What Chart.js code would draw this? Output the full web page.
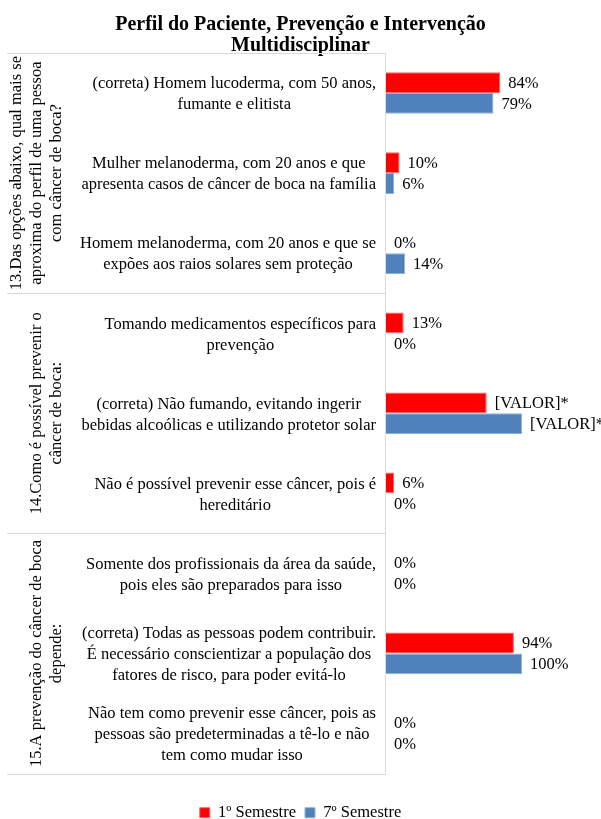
<!DOCTYPE html>
<html>
<head>
<meta charset="utf-8">
<script src="https://cdn.jsdelivr.net/npm/chart.js@4.4.1/dist/chart.umd.min.js"></script>
<style>
  body { margin: 0; background: #fff; }
  #wrap { width: 601px; height: 819px; }
</style>
</head>
<body>
<div id="wrap"><canvas id="myChart"></canvas></div>
<script>
// Answer options (one per bar pair)
const categories = [
  ["(correta) Homem lucoderma, com 50 anos,", "fumante e elitista"],
  ["Mulher melanoderma, com 20 anos e que", "apresenta casos de câncer de boca na família"],
  ["Homem melanoderma, com 20 anos e que se", "expões aos raios solares sem proteção"],
  ["Tomando medicamentos específicos para", "prevenção"],
  ["(correta) Não fumando, evitando ingerir", "bebidas alcoólicas e utilizando protetor solar"],
  ["Não é possível prevenir esse câncer, pois é", "hereditário"],
  ["Somente dos profissionais da área da saúde,", "pois eles são preparados para isso"],
  ["(correta) Todas as pessoas podem contribuir.", "É necessário conscientizar a população dos", "fatores de risco, para poder evitá-lo"],
  ["Não tem como prevenir esse câncer, pois as", "pessoas são predeterminadas a tê-lo e não", "tem como mudar isso"],
];

// Questions (each covers 3 options)
const groups = [
  ["13.Das opções abaixo, qual mais se", "aproxima do perfil de uma pessoa", "com câncer de boca?"],
  ["14.Como é possível prevenir o", "câncer de boca:"],
  ["15.A prevenção do câncer de boca", "depende:"],
];
const groupSize = 3;

// Series values (%)
const semestre1 = [84, 10, 0, 13, 74, 6, 0, 94, 0];
const semestre7 = [79, 6, 14, 0, 100, 0, 0, 100, 0];

// Value labels shown next to bars
const labels1 = ["84%", "10%", "0%", "13%", "[VALOR]*", "6%", "0%", "94%", "0%"];
const labels7 = ["79%", "6%", "14%", "0%", "[VALOR]*", "0%", "0%", "100%", "0%"];

const FONT = "'Liberation Serif', 'Times New Roman', serif";
const LINE = "#d9d9d9";

// Draws the category table, question labels and value labels
const tablePlugin = {
  id: "tablePlugin",
  afterDraw(chart) {
    const ctx = chart.ctx;
    const area = chart.chartArea;
    const y = chart.scales.y;
    const left = 7;

    ctx.save();
    ctx.strokeStyle = LINE;
    ctx.lineWidth = 1;

    // axis line
    ctx.beginPath();
    ctx.moveTo(area.left - 0.5, area.top);
    ctx.lineTo(area.left - 0.5, area.bottom);
    ctx.stroke();

    // group separators
    const bounds = [area.top];
    for (let g = 1; g < groups.length; g++) {
      const i = g * groupSize;
      bounds.push((y.getPixelForValue(i - 1) + y.getPixelForValue(i)) / 2);
    }
    bounds.push(area.bottom);
    bounds.forEach((b) => {
      const yy = Math.round(b) + 0.5;
      ctx.beginPath();
      ctx.moveTo(left, yy);
      ctx.lineTo(area.left, yy);
      ctx.stroke();
    });

    ctx.fillStyle = "#000";
    ctx.font = "16.5px " + FONT;
    ctx.textBaseline = "middle";

    // category labels: block right aligned, lines centred
    const right = area.left - 10;
    const lh = 21;
    categories.forEach((lines, i) => {
      const cy = y.getPixelForValue(i) + 1.5;
      const w = Math.max(...lines.map((l) => ctx.measureText(l).width));
      const cx = right - w / 2;
      ctx.textAlign = "center";
      lines.forEach((l, k) => {
        ctx.fillText(l, cx, cy + (k - (lines.length - 1) / 2) * lh);
      });
    });

    // question labels, rotated
    groups.forEach((lines, g) => {
      const cy = (bounds[g] + bounds[g + 1]) / 2;
      ctx.save();
      ctx.translate(0, cy);
      ctx.rotate(-Math.PI / 2);
      ctx.textAlign = "center";
      const n = lines.length;
      lines.forEach((l, k) => {
        const x = 57 - (n - 1 - k) * 20;
        ctx.fillText(l, 0, x);
      });
      ctx.restore();
    });

    // value labels
    ctx.textAlign = "left";
    [labels1, labels7].forEach((labs, d) => {
      chart.getDatasetMeta(d).data.forEach((bar, i) => {
        ctx.fillText(labs[i], bar.x + 8, bar.y + 1);
      });
    });

    ctx.restore();
  },
};

// Set chart data
const data = {
  labels: categories,
  datasets: [
    {
      label: "1º Semestre",
      data: semestre1,
      backgroundColor: "#ff0000",
      borderColor: "#ff6666",
      borderWidth: 1,
      categoryPercentage: 0.52,
      barPercentage: 1,
    },
    {
      label: "7º Semestre",
      data: semestre7,
      backgroundColor: "#4f81bd",
      borderColor: "#8eb0dc",
      borderWidth: 1,
      categoryPercentage: 0.52,
      barPercentage: 1,
    },
  ],
};

// Set chart config
const config = {
  type: "bar",
  data: data,
  options: {
    indexAxis: "y",
    responsive: true,
    maintainAspectRatio: false,
    animation: false,
    layout: { padding: { top: 0, right: 0, bottom: -12, left: 0 } },
    scales: {
      x: {
        display: true,
        min: 0,
        max: 158,
        grid: { display: false },
        border: { display: false },
        ticks: { display: false },
        afterFit(scale) {
          scale.height = 22;
        },
      },
      y: {
        display: true,
        grid: { display: false },
        border: { display: false },
        ticks: { display: false },
        afterFit(scale) {
          scale.width = 386;
        },
      },
    },
    plugins: {
      title: {
        display: true,
        text: ["Perfil do Paciente, Prevenção e Intervenção", "Multidisciplinar"],
        color: "#000",
        font: { family: FONT, size: 20, weight: "bold", lineHeight: 1.05 },
        padding: { top: 14, bottom: -3 },
      },
      legend: {
        position: "bottom",
        labels: {
          color: "#000",
          font: { family: FONT, size: 16.5 },
          boxWidth: 10,
          boxHeight: 10,
          padding: 9,
        },
      },
      tooltip: { enabled: false },
    },
  },
  plugins: [tablePlugin],
};

const ctx = document.getElementById("myChart").getContext("2d");
const myChart = new Chart(ctx, config);
</script>
</body>
</html>
